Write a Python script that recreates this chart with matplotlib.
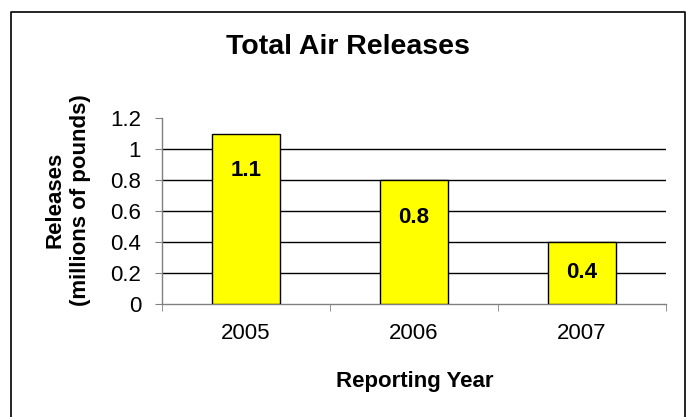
import matplotlib.pyplot as plt
from matplotlib.lines import Line2D
import numpy as np

plt.rcParams['font.family'] = ['Liberation Sans', 'DejaVu Sans']

years = ['2005', '2006', '2007']
releases = [1.1, 0.8, 0.4]
yticks = [0, 0.2, 0.4, 0.6, 0.8, 1, 1.2]
ytick_labels = ['0', '0.2', '0.4', '0.6', '0.8', '1', '1.2']

fig = plt.figure(figsize=(6.87, 4.17), dpi=100)
ax = fig.add_axes([162/687, 1-304/417, (666-162)/687, (304-118)/417])

x = np.arange(len(years))
ax.bar(x, releases, width=0.405, color='#FFFF00', edgecolor='black', linewidth=1, zorder=3)

# value labels just inside the bar top (centred in short bars)
ax_h_pt = (304 - 118) * 0.72
for xi, v in zip(x, releases):
    off = min(27, v / 1.2 * ax_h_pt / 2)
    ax.annotate(f'{v:g}', (xi, v), xytext=(0, -off), textcoords='offset points',
                ha='center', va='center', fontsize=16, fontweight='bold', zorder=4)

ax.set_xlim(-0.5, 2.5)
ax.set_ylim(0, 1.2)
ax.set_yticks(yticks)
ax.set_yticklabels(ytick_labels, fontsize=16)
ax.set_xticks(x)
ax.set_xticklabels(years, fontsize=16)
ax.set_xticks([-0.5, 0.5, 1.5, 2.5], minor=True)
ax.tick_params(axis='x', which='major', length=0, pad=14)
ax.tick_params(axis='x', which='minor', length=5, color='#808080', direction='out')
ax.tick_params(axis='y', length=5, color='#808080', direction='out', pad=10)

for yv in yticks[1:-1]:
    ax.axhline(yv, color='black', linewidth=1, zorder=1)

for s in ['top', 'right']:
    ax.spines[s].set_visible(False)
for s in ['left', 'bottom']:
    ax.spines[s].set_color('#808080')
    ax.spines[s].set_linewidth(1)

fig.text(348/687, 1-47/417, 'Total Air Releases', ha='center', va='center',
         fontsize=20.5, fontweight='bold')
fig.text(415/687, 1-381/417, 'Reporting Year', ha='center', va='center',
         fontsize=16, fontweight='bold')
fig.text(68/687, 1-200/417, 'Releases\n(millions of pounds)', ha='center', va='center',
         rotation=90, fontsize=16, fontweight='bold', linespacing=1.3)

# chart border (bottom edge runs off the image)
bx0, bx1, by1 = 11/687, 685/687, 1-12/417
fig.add_artist(Line2D([bx0, bx0, bx1, bx1], [-0.1, by1, by1, -0.1],
                      transform=fig.transFigure, color='black', linewidth=1.2))

fig.savefig('out.png', dpi=100)
